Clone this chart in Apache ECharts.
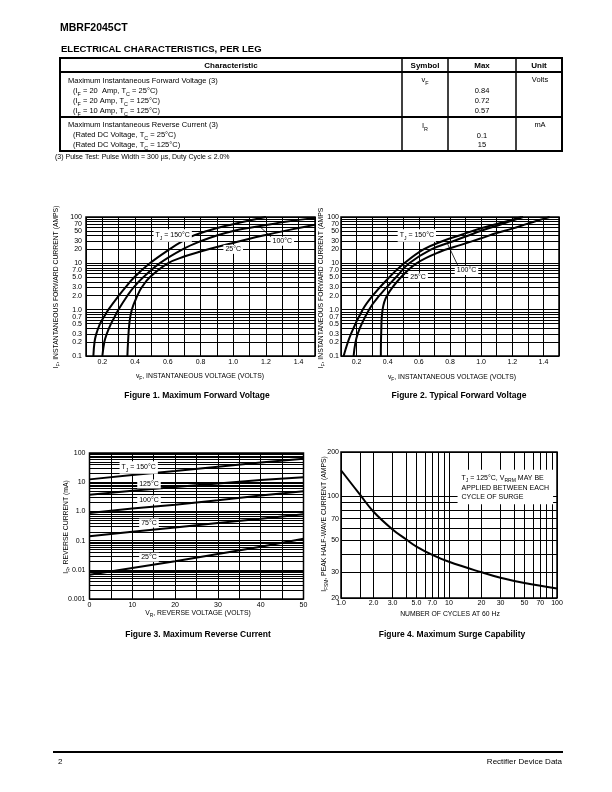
<!DOCTYPE html>
<html>
<head>
<meta charset="utf-8">
<script src="https://cdn.jsdelivr.net/npm/echarts@6/dist/echarts.min.js"></script>
<style>
html, body { margin: 0; padding: 0; background: #fff; }
#page { width: 612px; height: 792px; }
</style>
</head>
<body>
<div id="page"></div>
<script>
var FONT = '"Liberation Sans", Arial, Helvetica, sans-serif'

// Figure 1 - maximum forward voltage, [vF volts, iF amps]
var fig1Tj150 = [[0.145, 0.1], [0.152, 0.2], [0.163, 0.3], [0.186, 0.5], [0.21, 0.7], [0.237, 1], [0.30, 2], [0.34, 3], [0.395, 5], [0.49, 10], [0.61, 20], [0.69, 30], [0.76, 40], [0.84, 50], [0.92, 60], [1.0, 70], [1.07, 80], [1.2, 100]]
var fig1Tj100 = [[0.2, 0.1], [0.212, 0.2], [0.227, 0.3], [0.253, 0.5], [0.275, 0.7], [0.298, 1], [0.353, 2], [0.39, 3], [0.45, 5], [0.55, 10], [0.69, 20], [0.8, 30], [0.9, 40], [1.0, 50], [1.12, 60], [1.23, 70], [1.33, 80], [1.44, 90], [1.5, 94]]
var fig1Tj25 = [[0.353, 0.1], [0.357, 0.2], [0.365, 0.5], [0.38, 1], [0.414, 2], [0.44, 3], [0.49, 5], [0.6, 10], [0.7, 14], [0.8, 18], [0.9, 22.5], [1.0, 27.5], [1.1, 34], [1.2, 41], [1.3, 49], [1.4, 58], [1.5, 68]]

// Figure 2 - typical forward voltage
var fig2Tj150 = [[0.117, 0.1], [0.164, 0.3], [0.239, 1], [0.303, 2], [0.41, 5], [0.506, 10], [0.63, 20], [0.75, 30], [0.86, 40], [1.0, 57], [1.13, 75], [1.26, 100]]
var fig2Tj100 = [[0.181, 0.1], [0.207, 0.3], [0.28, 1], [0.346, 2], [0.453, 5], [0.538, 10], [0.68, 20], [0.82, 30], [1.0, 50.6], [1.13, 70], [1.27, 100]]
var fig2Tj25 = [[0.356, 0.1], [0.358, 0.3], [0.367, 1], [0.395, 2], [0.485, 5], [0.585, 10], [0.736, 17.8], [0.87, 25], [1.0, 34.7], [1.1, 45], [1.2, 56], [1.3, 72], [1.44, 100]]

// Figure 3 - maximum reverse current (mA) against reverse voltage
var fig3Volts = [0, 10, 20, 30, 40, 50]
var fig3Tj150 = [12.5, 17.5, 24, 34, 47, 64]
var fig3Tj125 = [3.7, 5.1, 6.9, 9.1, 11.8, 14.7]
var fig3Tj100 = [0.88, 1.25, 1.7, 2.4, 3.5, 4.9]
var fig3Tj75 = [0.14, 0.2, 0.28, 0.4, 0.56, 0.8]
var fig3Tj25 = [0.0068, 0.0115, 0.0195, 0.035, 0.062, 0.115]

// Figure 4 - surge capability
var fig4Cycles = [1, 1.5, 2, 3, 4, 5, 7, 10, 20, 30, 50, 100]
var fig4Amps = [150, 102, 78, 59, 50.5, 45, 39.5, 35.4, 30, 27.5, 25.3, 23.2]

// log axis ticks / labels
var fig12Ticks = [0.1, 0.2, 0.3, 0.4, 0.5, 0.6, 0.7, 0.8, 0.9, 1, 2, 3, 4, 5, 6, 7, 8, 9, 10, 20, 30, 40, 50, 60, 70, 80, 90, 100]
var fig12Labels = [0.1, 0.2, 0.3, 0.5, 0.7, 1, 2, 3, 5, 7, 10, 20, 30, 50, 70, 100]
var fig3Ticks = [0.001, 0.002, 0.003, 0.004, 0.005, 0.006, 0.007, 0.008, 0.009,
  0.01, 0.02, 0.03, 0.04, 0.05, 0.06, 0.07, 0.08, 0.09,
  0.1, 0.2, 0.3, 0.4, 0.5, 0.6, 0.7, 0.8, 0.9,
  1, 2, 3, 4, 5, 6, 7, 8, 9,
  10, 20, 30, 40, 50, 60, 70, 80, 90, 100]
var fig3Labels = [0.001, 0.01, 0.1, 1, 10, 100]
var fig4XTicks = [1, 1.5, 2, 3, 4, 5, 6, 7, 8, 9, 10, 15, 20, 30, 40, 50, 60, 70, 80, 90, 100]
var fig4XLabels = [1, 2, 3, 5, 7, 10, 20, 30, 50, 70, 100]
var fig4YTicks = [20, 30, 40, 50, 60, 70, 80, 90, 100, 200]
var fig4YLabels = [20, 30, 50, 70, 100, 200]

function pairs (xs, ys) {
  return xs.map(function (x, i) { return [x, ys[i]] })
}

function rich (size) {
  return {
    s: { fontSize: size * 0.72, fontFamily: FONT, color: '#000', lineHeight: size * 1.5, verticalAlign: 'bottom' }
  }
}

function txt (x, y, text, size, opt) {
  opt = opt || {}
  return {
    type: 'text',
    x: x,
    y: y,
    rotation: opt.rot || 0,
    silent: true,
    style: {
      text: text,
      fontSize: size,
      fontFamily: FONT,
      fontWeight: opt.bold || 'normal',
      fill: '#000',
      align: opt.align || 'left',
      verticalAlign: 'middle',
      rich: rich(size)
    }
  }
}

function hline (x1, x2, y, w) {
  return { type: 'line', silent: true, shape: { x1: x1, y1: y, x2: x2, y2: y }, style: { stroke: '#000', lineWidth: w } }
}
function vline (x, y1, y2, w) {
  return { type: 'line', silent: true, shape: { x1: x, y1: y1, x2: x, y2: y2 }, style: { stroke: '#000', lineWidth: w } }
}

function fmtLog (v) {
  if (v >= 10) return v.toFixed(0)
  if (v >= 0.1) return v.toFixed(1)
  return String(+v.toPrecision(2))
}
function fmtTenths (v) {
  var k = Math.round(v * 10)
  return k % 2 === 0 ? (k / 10).toFixed(1) : ''
}
function fmtTens (v) {
  return Math.round(v) % 10 === 0 ? String(Math.round(v)) : ''
}

var gridLine = { show: true, lineStyle: { color: '#000', width: 1 } }

function valueAxis (grid, min, max, interval, formatter) {
  return {
    gridIndex: grid, type: 'value', min: min, max: max, interval: interval,
    axisLine: { show: false }, axisTick: { show: false },
    axisLabel: { formatter: formatter, fontSize: 7, fontFamily: FONT, color: '#000', margin: 3 },
    splitLine: gridLine
  }
}

function logAxis (grid, min, max, ticks, labels, margin) {
  return {
    gridIndex: grid, type: 'log', logBase: 10, min: min, max: max,
    axisLine: { show: false },
    axisTick: { show: false, customValues: ticks },
    axisLabel: { customValues: labels, formatter: fmtLog, fontSize: 7, fontFamily: FONT, color: '#000', margin: margin },
    splitLine: gridLine
  }
}

var tagLabel = {
  show: true,
  position: 'inside',
  formatter: function (p) { return p.name },
  color: '#000',
  fontSize: 7,
  fontFamily: FONT,
  backgroundColor: '#fff',
  padding: [1, 2],
  rich: rich(7)
}

function tags (list) {
  return {
    symbol: 'circle',
    symbolSize: 0,
    silent: true,
    label: tagLabel,
    data: list.map(function (t) { return { name: t[0], coord: t[1] } })
  }
}

function arrow (from, to) {
  return {
    silent: true,
    symbol: ['none', 'arrow'],
    symbolSize: [0, 5],
    label: { show: false },
    lineStyle: { color: '#000', width: 0.8, type: 'solid' },
    data: [[{ coord: from }, { coord: to }]]
  }
}

function curve (x, y, data, extra) {
  var s = {
    type: 'line', xAxisIndex: x, yAxisIndex: y, data: data,
    showSymbol: false, smooth: 0.4, silent: true,
    lineStyle: { color: '#000', width: 2 }, itemStyle: { color: '#000' }
  }
  for (var k in extra) s[k] = extra[k]
  return s
}

var gridBox = { show: true, borderColor: '#000', borderWidth: 1.5, backgroundColor: 'transparent' }
function grid (left, top, width, height) {
  return Object.assign({ left: left, top: top, width: width, height: height }, gridBox)
}

var graphic = [
  txt(60, 28, 'MBRF2045CT', 10.5, { bold: 900 }),
  txt(61, 49.5, 'ELECTRICAL CHARACTERISTICS, PER LEG', 9.5, { bold: 'bold' }),

  { type: 'rect', silent: true, shape: { x: 60, y: 58, width: 502, height: 93 }, style: { fill: 'none', stroke: '#000', lineWidth: 2 } },
  hline(60, 562, 72, 2),
  hline(60, 562, 117, 2),
  vline(402, 58, 151, 1.5),
  vline(448, 58, 151, 1.5),
  vline(516, 58, 151, 1.5),

  txt(231, 65.5, 'Characteristic', 8, { bold: 'bold', align: 'center' }),
  txt(425, 65.5, 'Symbol', 8, { bold: 'bold', align: 'center' }),
  txt(482, 65.5, 'Max', 8, { bold: 'bold', align: 'center' }),
  txt(539, 65.5, 'Unit', 8, { bold: 'bold', align: 'center' }),

  txt(68, 81, 'Maximum Instantaneous Forward Voltage (3)', 7.5),
  txt(73, 91, '(I{s|F} = 20  Amp, T{s|C} = 25°C)', 7.5),
  txt(73, 101, '(I{s|F} = 20 Amp, T{s|C} = 125°C)', 7.5),
  txt(73, 111, '(I{s|F} = 10 Amp, T{s|C} = 125°C)', 7.5),
  txt(425, 80, 'v{s|F}', 7.5, { align: 'center' }),
  txt(540, 80, 'Volts', 7.5, { align: 'center' }),
  txt(482, 90.5, '0.84', 7.5, { align: 'center' }),
  txt(482, 100.5, '0.72', 7.5, { align: 'center' }),
  txt(482, 110.5, '0.57', 7.5, { align: 'center' }),

  txt(68, 125, 'Maximum Instantaneous Reverse Current (3)', 7.5),
  txt(73, 135, '(Rated DC Voltage, T{s|C} = 25°C)', 7.5),
  txt(73, 145, '(Rated DC Voltage, T{s|C} = 125°C)', 7.5),
  txt(425, 126, 'I{s|R}', 7.5, { align: 'center' }),
  txt(540, 125, 'mA', 7.5, { align: 'center' }),
  txt(482, 135.5, '0.1', 7.5, { align: 'center' }),
  txt(482, 145, '15', 7.5, { align: 'center' }),

  txt(55, 157, '(3) Pulse Test: Pulse Width = 300 µs, Duty Cycle ≤ 2.0%', 7),

  // axis titles
  txt(56, 287, 'I{s|F}, INSTANTANEOUS FORWARD CURRENT (AMPS)', 6.8, { rot: Math.PI / 2, align: 'center' }),
  txt(200, 376.5, 'v{s|F}, INSTANTANEOUS VOLTAGE (VOLTS)', 6.8, { align: 'center' }),
  txt(321, 288, 'I{s|F}, INSTANTANEOUS FORWARD CURRENT (AMPS', 6.8, { rot: Math.PI / 2, align: 'center' }),
  txt(452, 377, 'v{s|F}, INSTANTANEOUS VOLTAGE (VOLTS)', 6.8, { align: 'center' }),
  txt(66, 527, 'I{s|R}, REVERSE CURRENT (mA)', 6.8, { rot: Math.PI / 2, align: 'center' }),
  txt(198, 613.5, 'V{s|R}, REVERSE VOLTAGE (VOLTS)', 6.8, { align: 'center' }),
  txt(324, 524, 'I{s|FSM}, PEAK HALF-WAVE CURRENT (AMPS)', 6.8, { rot: Math.PI / 2, align: 'center' }),
  txt(450, 614, 'NUMBER OF CYCLES AT 60 Hz', 6.8, { align: 'center' }),

  // captions
  txt(197, 396, 'Figure 1. Maximum Forward Voltage', 8.5, { bold: 'bold', align: 'center' }),
  txt(459, 396, 'Figure 2. Typical Forward Voltage', 8.5, { bold: 'bold', align: 'center' }),
  txt(198, 635, 'Figure 3. Maximum Reverse Current', 8.5, { bold: 'bold', align: 'center' }),
  txt(452, 635, 'Figure 4. Maximum Surge Capability', 8.5, { bold: 'bold', align: 'center' }),

  // footer
  hline(53, 563, 752, 2),
  txt(58, 762, '2', 8),
  txt(562, 762, 'Rectifier Device Data', 8, { align: 'right' })
]

var option = {
  animation: false,
  backgroundColor: '#fff',
  textStyle: { fontFamily: FONT },
  grid: [
    grid(86, 217, 229, 139),
    grid(341, 217, 218, 139),
    grid(89.5, 453, 214, 146),
    grid(341, 452, 216, 146)
  ],
  xAxis: [
    valueAxis(0, 0.1, 1.5, 0.1, fmtTenths),
    valueAxis(1, 0.1, 1.5, 0.1, fmtTenths),
    valueAxis(2, 0, 50, 5, fmtTens),
    logAxis(3, 1, 100, fig4XTicks, fig4XLabels, 2)
  ],
  yAxis: [
    logAxis(0, 0.1, 100, fig12Ticks, fig12Labels, 4),
    logAxis(1, 0.1, 100, fig12Ticks, fig12Labels, 2),
    logAxis(2, 0.001, 100, fig3Ticks, fig3Labels, 4),
    logAxis(3, 20, 200, fig4YTicks, fig4YLabels, 2)
  ],
  series: [
    curve(0, 0, fig1Tj150, {
      markPoint: tags([
        ['T{s|J} = 150°C', [0.63, 40]],
        ['100°C', [1.30, 30]],
        ['25°C', [1.0, 20]]
      ]),
      markLine: arrow([1.235, 36], [1.165, 61])
    }),
    curve(0, 0, fig1Tj100),
    curve(0, 0, fig1Tj25),

    curve(1, 1, fig2Tj150, {
      markPoint: tags([
        ['T{s|J} = 150°C', [0.587, 40]],
        ['100°C', [0.906, 7]],
        ['25°C', [0.595, 5]]
      ]),
      markLine: arrow([0.855, 8.3], [0.785, 26])
    }),
    curve(1, 1, fig2Tj100),
    curve(1, 1, fig2Tj25),

    curve(2, 2, pairs(fig3Volts, fig3Tj150), {
      smooth: false,
      markPoint: tags([
        ['T{s|J} = 150°C', [11.5, 32]],
        ['125°C', [13.9, 8.7]],
        ['100°C', [13.9, 2.5]],
        ['75°C', [13.9, 0.4]],
        ['25°C', [13.9, 0.027]]
      ])
    }),
    curve(2, 2, pairs(fig3Volts, fig3Tj125), { smooth: false }),
    curve(2, 2, pairs(fig3Volts, fig3Tj100), { smooth: false }),
    curve(2, 2, pairs(fig3Volts, fig3Tj75), { smooth: false }),
    curve(2, 2, pairs(fig3Volts, fig3Tj25), { smooth: false }),

    curve(3, 3, pairs(fig4Cycles, fig4Amps), {
      markPoint: {
        symbol: 'circle',
        symbolSize: 0,
        silent: true,
        label: {
          show: true,
          position: 'right',
          distance: 0,
          align: 'left',
          formatter: function (p) { return p.name },
          color: '#000',
          fontSize: 7,
          fontFamily: FONT,
          lineHeight: 9,
          backgroundColor: '#fff',
          padding: [3, 4],
          rich: rich(7)
        },
        data: [{
          name: 'T{s|J} = 125°C, V{s|RRM} MAY BE\nAPPLIED BETWEEN EACH\nCYCLE OF SURGE',
          coord: [12, 115]
        }]
      }
    })
  ],
  graphic: graphic
}

var chart = echarts.init(document.getElementById('page'), null, { renderer: 'canvas' })
chart.setOption(option)
</script>
</body>
</html>
